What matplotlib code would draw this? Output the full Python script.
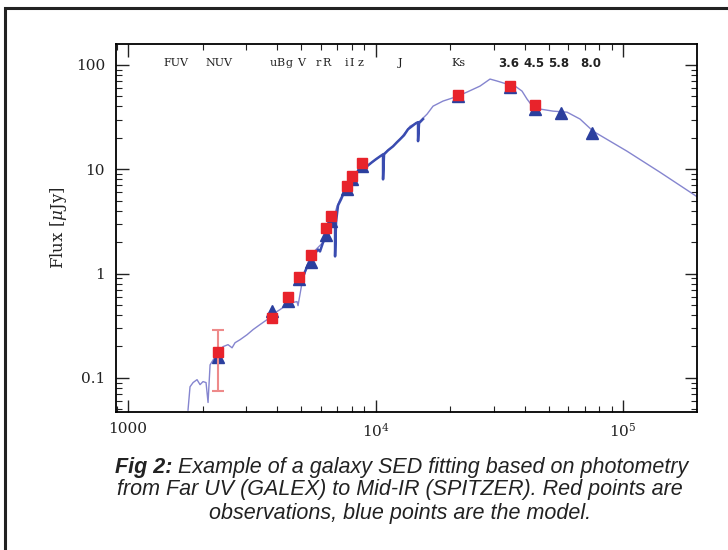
import numpy as np
import matplotlib
matplotlib.use("Agg")
import matplotlib.pyplot as plt
from matplotlib.patches import Rectangle

# ---------- data ----------
# model spectrum (wavelength in Angstrom, flux in uJy)
spec_wave = [1747, 1780, 1831, 1900, 1954, 2009, 2066, 2105, 2145, 2247, 2311, 2420,
             2535, 2632, 2706, 2835, 3026, 3200, 3414, 3644, 3817, 4112, 4389, 4598,
             4817, 4862, 5047, 5337, 5590, 6135, 6549, 6990, 7188, 7672, 8419, 9241,
             10428, 11770, 12560, 13785, 15130, 16150, 17075, 18740, 20960, 23430,
             26440, 29010, 30970, 33990, 36610, 39070, 40940, 43290, 46190, 52150,
             59390, 67040, 75660, 103800, 141100, 200900]
spec_flux = [0.049, 0.082, 0.090, 0.096, 0.086, 0.092, 0.090, 0.058, 0.133, 0.159, 0.174, 0.199,
             0.208, 0.194, 0.217, 0.232, 0.259, 0.290, 0.324, 0.361, 0.404, 0.451, 0.504, 0.526,
             0.538, 0.492, 0.818, 1.28, 1.59, 1.99, 2.65, 4.41, 5.15, 6.87, 9.36, 10.7,
             13.3, 16.6, 19.4, 25.9, 29.0, 33.8, 40.3, 45.1, 49.2, 55.0,
             62.8, 73.3, 70.2, 65.6, 62.8, 56.2, 47.1, 39.5, 37.8, 36.1,
             35.3, 30.3, 23.2, 14.9, 9.36, 5.38]

# dense high resolution part of the model (drawn darker)
hr_wave = [4954, 5190, 5338, 5488, 5642, 5856, 5966, 6137, 6310, 6429, 6550, 6735, 6862,
           6862, 6926, 7056, 7255, 7460, 7670, 7888, 8111, 8419, 8659, 8822, 8986, 9242,
           9681, 10046, 10428, 10723, 10723, 10823, 11233, 11770, 12216, 12560, 13036,
           13530, 14044, 14575, 14850, 14850, 14990, 15556]
hr_flux = [0.784, 1.045, 1.22, 1.30, 1.52, 1.70, 1.63, 1.99, 2.22, 2.37, 2.65, 3.16, 3.30,
           1.46, 3.16, 4.51, 5.15, 6.01, 6.87, 7.67, 8.38, 9.36, 9.78, 9.57, 10.4, 10.7,
           11.7, 12.5, 13.3, 13.9, 8.0, 13.9, 15.2, 16.6, 18.2, 19.4, 21.2,
           24.2, 25.9, 27.7, 28.3, 18.6, 27.7, 30.3]

# observations (red squares)
obs_wave = [2310, 3817, 4431, 4909, 5488, 6310, 6611, 7670, 8036, 8822, 21540, 34950, 44100]
obs_flux = [0.178, 0.378, 0.60, 0.93, 1.52, 2.71, 3.6, 6.9, 8.6, 11.4, 51.5, 62.8, 41.0]
nuv_err_lo = 0.075
nuv_err_hi = 0.29

# model photometry (blue triangles)
mod_wave = [2310, 3817, 4431, 4909, 5488, 6310, 6611, 7670, 8036, 8822, 21540, 34950,
            44100, 56160, 74950]
mod_flux = [0.16, 0.44, 0.55, 0.88, 1.30, 2.35, 3.2, 6.4, 8.0, 10.7, 50.0, 61.0,
            37.7, 34.5, 22.2]

# filter names along the top (left edge of each label)
band_names = ["FUV", "NUV", "u", "B", "g", "V", "r", "R", "i", "I", "z", "J", "Ks",
              "3.6", "4.5", "5.8", "8.0"]
band_wave = [1385, 2047, 3747, 3963, 4310, 4817, 5748, 6080, 7530, 7814, 8497, 12330,
             20190, 31260, 39450, 49770, 67040]

caption = ["Example of a galaxy SED fitting based on photometry",
           "from Far UV (GALEX) to Mid-IR (SPITZER). Red points are",
           "observations, blue points are the model."]

# ---------- figure ----------
plt.rcParams["mathtext.fontset"] = "dejavuserif"
fig = plt.figure(figsize=(7.28, 5.5), dpi=100)
fig.patches.append(Rectangle((5 / 728, -0.05), 1.1, 1 - 8 / 550 + 0.05,
                             transform=fig.transFigure, fill=False,
                             edgecolor="#222222", linewidth=2.2, zorder=0))

ax = fig.add_axes([116 / 728, 1 - 412 / 550, (697 - 116) / 728, (412 - 44) / 550])
ax.set_xscale("log"); ax.set_yscale("log")
ax.set_xlim(894, 1.99e5)
ax.set_ylim(0.047, 159)

ax.plot(spec_wave, spec_flux, color="#8585cf", lw=1.0, zorder=2)
ax.plot(hr_wave, hr_flux, color="#3a4cb0", lw=1.8, zorder=3)

ax.plot(mod_wave, mod_flux, "^", color="#2b3f9e", ms=8, zorder=4)
ax.errorbar([obs_wave[0]], [obs_flux[0]],
            yerr=[[obs_flux[0] - nuv_err_lo], [nuv_err_hi - obs_flux[0]]],
            fmt="none", ecolor="#ee8a8a", elinewidth=1.5, capsize=4.5, capthick=1.5, zorder=4)
ax.plot(obs_wave, obs_flux, "s", color="#e8232b", ms=7.5, zorder=5)

for name, w in zip(band_names, band_wave):
    if name[0].isdigit():
        ax.text(w, 104, name, ha="left", va="center", fontsize=8.5, family="DejaVu Sans",
                fontweight="bold", color="#222222")
    else:
        ax.text(w, 104, name, ha="left", va="center", fontsize=8, family="DejaVu Serif",
                color="#222222")

ax.set_xticks([1000, 1e4, 1e5])
ax.set_xticklabels(["1000", r"10$^{4}$", r"10$^{5}$"])
ax.set_yticks([0.1, 1, 10, 100])
ax.set_yticklabels(["0.1", "1", "10", "100"])
ax.tick_params(which="both", direction="in", top=True, right=True, colors="#222222",
               labelsize=11)
ax.tick_params(axis="x", pad=7)
ax.tick_params(axis="y", pad=8)
ax.tick_params(which="major", length=9, width=1.0)
ax.tick_params(which="minor", length=4.5, width=0.8)
for lab in ax.get_xticklabels() + ax.get_yticklabels():
    lab.set_family("DejaVu Serif")
for s in ax.spines.values():
    s.set_linewidth(1.3)
ax.set_ylabel(r"Flux [$\mu$Jy]", family="DejaVu Serif", fontsize=12, color="#222222",
              labelpad=5)

# caption, centred on the page (the frame runs past the right edge)
fs = 15.5
cx = 400 / 728
t1 = fig.text(cx, 1 - 467 / 550, "Fig 2: " + caption[0], ha="center", va="center",
              fontsize=fs, family="Liberation Sans", style="italic", alpha=0)
fig.canvas.draw()
x0 = t1.get_window_extent().x0 / fig.bbox.width
t1.remove()
lead = fig.text(x0, 1 - 467 / 550, "Fig 2:", ha="left", va="center", fontsize=fs,
                family="Liberation Sans", style="italic", fontweight="bold", color="#222222")
fig.canvas.draw()
lb = lead.get_window_extent()
fig.text(lb.x1 / fig.bbox.width, 1 - 467 / 550, " " + caption[0], ha="left", va="center",
         fontsize=fs, family="Liberation Sans", style="italic", color="#222222")
fig.text(cx, 1 - 490 / 550, caption[1], ha="center", va="center", fontsize=fs,
         family="Liberation Sans", style="italic", color="#222222")
fig.text(cx, 1 - 513 / 550, caption[2], ha="center", va="center", fontsize=fs,
         family="Liberation Sans", style="italic", color="#222222")

fig.savefig("out.png", dpi=100)
